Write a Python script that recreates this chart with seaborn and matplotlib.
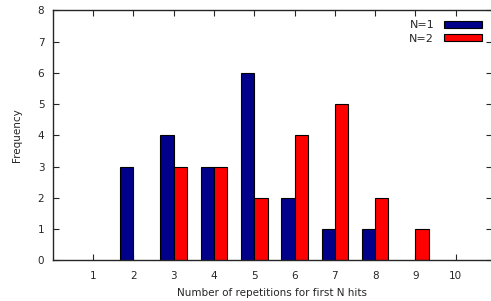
import numpy as np
import pandas as pd
import matplotlib
matplotlib.use("Agg")
import matplotlib.pyplot as plt
import seaborn as sns

# Values
repetitions = [1, 2, 3, 4, 5, 6, 7, 8, 9, 10]
freq_n1 = [np.nan, 3, 4, 3, 6, 2, 1, 1, np.nan, np.nan]
freq_n2 = [np.nan, np.nan, 3, 3, 2, 4, 5, 2, 1, np.nan]
series_labels = ["N=1", "N=2"]
series_colors = ["#00008b", "#ff0000"]

df = pd.DataFrame({
    "reps": repetitions * 2,
    "freq": freq_n1 + freq_n2,
    "series": [series_labels[0]] * len(repetitions) + [series_labels[1]] * len(repetitions),
}).dropna()

sns.set_style("ticks")
plt.rcParams["font.family"] = ["DejaVu Sans"]
plt.rcParams["font.size"] = 7.5

fig = plt.figure(figsize=(4.91, 3.01), dpi=100)
# right edge of the frame sits just past the image border, as in the reference
ax = fig.add_axes([52.7 / 491, 1 - 260.3 / 301, (492 - 52.7) / 491, 250 / 301])

sns.barplot(data=df, x="reps", y="freq", hue="series", order=repetitions,
            hue_order=series_labels, palette=series_colors, width=0.66,
            dodge=True, edgecolor="black", linewidth=0.8, saturation=1, ax=ax)

ax.set_xlim(-1, 9.9)
ax.set_ylim(0, 8)
ax.set_yticks(range(0, 9))
ax.set_xlabel("Number of repetitions for first N hits", fontsize=7.5, labelpad=5)
ax.set_ylabel("Frequency", fontsize=7.5, labelpad=11)
ax.tick_params(direction="in", top=True, right=True, length=4, width=0.8,
               labelsize=7.5)
ax.tick_params(axis="x", pad=8)
ax.tick_params(axis="y", pad=6)
for s in ax.spines.values():
    s.set_linewidth(1.0)

ax.legend(loc="upper right", frameon=False, markerfirst=False,
          handlelength=3.4, handleheight=0.6, labelspacing=0.3,
          handletextpad=0.9, borderaxespad=0.5, fontsize=8)

fig.savefig("out.png", dpi=100)
